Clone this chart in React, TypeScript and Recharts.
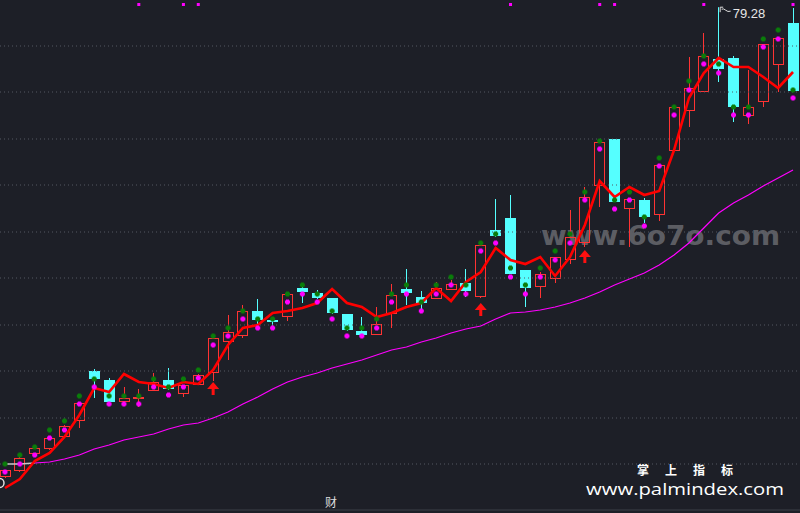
import { ComposedChart, Bar, Line, Scatter, XAxis, YAxis, ReferenceLine } from 'recharts';

const BG = '#1d1f27';
const UP = '#ff3333';
const DOWN = '#55ffff';

// daily candles, left to right
const opens = [32.3, 32.9, 34.6, 35.1, 36.3, 37.9, 42.9, 42.0, 39.8, 40.1, 40.9, 42.0, 40.6, 41.5, 42.7, 45.8, 46.4, 48.9, 48.0, 48.3, 51.2, 50.7, 50.2, 48.6, 46.9, 46.5, 48.6, 51.1, 50.3, 50.1, 51.0, 51.7, 50.3, 57.0, 58.2, 53.0, 51.3, 52.1, 54.0, 55.7, 61.4, 66.1, 59.1, 60.0, 58.5, 64.9, 68.9, 70.8, 74.1, 74.2, 68.4, 69.8, 73.5, 77.7];
const closes = [33.0, 34.2, 35.2, 36.2, 37.4, 39.7, 42.1, 39.8, 40.2, 40.3, 41.8, 41.1, 41.5, 42.5, 46.2, 46.8, 48.9, 48.0, 47.9, 50.6, 50.8, 50.2, 48.7, 47.0, 46.5, 47.6, 50.5, 50.7, 49.7, 51.2, 51.6, 50.9, 55.5, 56.4, 52.6, 51.2, 52.6, 54.3, 56.3, 60.3, 65.8, 59.8, 60.1, 58.3, 63.5, 69.3, 71.2, 74.4, 73.1, 69.3, 69.3, 75.6, 76.2, 70.9];
const highs = [33.0, 34.3, 35.3, 36.3, 37.5, 39.7, 43.1, 42.2, 41.3, 41.1, 42.7, 43.2, 41.5, 42.6, 46.2, 48.5, 49.5, 50.1, 48.3, 50.6, 51.3, 51.0, 50.2, 48.6, 48.3, 49.3, 51.6, 53.1, 50.9, 51.8, 52.0, 53.1, 55.6, 60.1, 60.5, 53.0, 52.8, 54.3, 59.0, 61.3, 65.9, 66.1, 60.1, 60.2, 63.5, 69.4, 74.3, 76.7, 79.28, 74.4, 73.0, 75.6, 76.2, 79.2];
const lows = [32.2, 32.8, 34.5, 35.0, 36.2, 37.2, 40.2, 39.8, 39.8, 39.3, 40.9, 41.0, 40.3, 41.5, 41.9, 44.0, 46.2, 47.2, 47.2, 47.9, 49.7, 50.1, 48.6, 46.9, 46.5, 46.5, 47.2, 49.5, 48.7, 50.1, 51.0, 50.3, 50.2, 56.3, 52.6, 49.3, 50.2, 51.7, 53.6, 55.3, 59.3, 59.8, 55.3, 57.7, 57.9, 64.9, 67.3, 70.8, 71.8, 67.8, 67.6, 69.3, 70.8, 70.9];

// short average (red) and long average (magenta, grey at the start)
const shortMa = [31.2, 32.1, 33.9, 34.7, 36.3, 38.5, 41.2, 40.8, 42.6, 41.8, 41.6, 41.2, 41.8, 41.6, 43.0, 45.5, 47.2, 47.5, 48.7, 48.9, 49.2, 49.7, 51.1, 49.7, 49.3, 48.3, 48.7, 49.3, 49.7, 51.2, 49.9, 51.8, 52.8, 55.2, 54.0, 53.6, 54.3, 52.4, 54.3, 57.5, 61.9, 60.3, 61.3, 60.5, 60.9, 65.0, 70.2, 72.7, 74.2, 73.3, 73.3, 72.3, 71.2, 72.8];
const longMa = [null, null, 33.7, 33.8, 34.1, 34.5, 35.1, 35.5, 36.0, 36.3, 36.6, 37.1, 37.5, 37.7, 38.2, 38.8, 39.6, 40.3, 41.1, 41.8, 42.3, 42.7, 43.2, 43.6, 44.0, 44.5, 45.0, 45.3, 45.8, 46.2, 46.7, 47.1, 47.4, 48.1, 48.7, 48.8, 49.0, 49.3, 49.7, 50.2, 50.8, 51.5, 52.1, 52.7, 53.5, 54.5, 55.7, 57.2, 58.7, 59.7, 60.5, 61.4, 62.2, 63.0];
const longMaGrey = [33.6, 33.6, 33.7];

// signal dots above / below
const greenDots = [33.6, 34.5, 35.3, 37.0, 37.9, 40.4, 42.1, 40.4, 40.4, 40.4, 42.1, 41.3, 42.1, 43.0, 46.4, 47.2, 48.9, 48.1, 48.1, 50.6, 51.5, 50.6, 48.9, 47.2, 47.2, 48.1, 50.6, 51.5, 49.8, 51.5, 52.3, 51.5, 55.7, 56.6, 53.2, 51.5, 53.2, 54.9, 56.6, 60.8, 65.9, 60.0, 60.8, 58.3, 64.2, 69.3, 71.9, 74.4, 73.6, 69.3, 69.3, 76.1, 77.0, 71.0];
const pinkDots = [32.8, 33.6, 34.5, 36.2, 37.0, 39.6, 41.3, 39.6, 39.6, 39.6, 41.3, 40.5, 41.3, 42.2, 45.5, 46.4, 48.1, 47.2, 47.2, 49.8, 50.6, 49.8, 48.1, 46.4, 46.4, 47.2, 49.8, 50.6, 48.9, 50.6, 51.5, 50.6, 54.9, 55.7, 52.3, 50.6, 52.3, 54.0, 55.7, 60.0, 65.1, 59.1, 60.0, 57.4, 63.4, 68.5, 71.0, 73.6, 72.7, 68.5, 68.5, 75.3, 76.1, 70.2];

const arrowBars = [14, 32, 39];
const arrowTips = [41.8, 49.7, 55.0];
const topMarkBars = [9, 12, 13, 34, 40, 41, 47, 53];
const topMarkLevel = 79.55;

const gridLevels = [75.4, 70.8, 66.1, 61.5, 56.8, 52.2, 47.5, 42.9, 38.2, 33.6];
const peakBar = 48;
const peakLabel = '79.28';

const rows = opens.map((o, i) => ({
  i,
  open: o,
  close: closes[i],
  high: highs[i],
  low: lows[i],
  range: [lows[i], highs[i]],
  ma: shortMa[i],
  longMa: longMa[i],
  grey: i < longMaGrey.length ? longMaGrey[i] : null,
  green: greenDots[i],
  pink: pinkDots[i],
}));

const arrows = arrowBars.map((b, k) => ({ i: b, tip: arrowTips[k] }));
const topMarks = topMarkBars.map(b => ({ i: b, level: topMarkLevel }));
const peak = [{ i: peakBar, level: highs[peakBar] }];

const Candle = (props: any) => {
  const { x, y, width, height, payload } = props;
  const top = Math.min(y, y + height);
  const h = Math.abs(height);
  const { open, close, high, low } = payload;
  const span = high - low || 1;
  const yOf = (v: number) => top + ((high - v) / span) * h;
  const cx = x + width / 2;
  const left = Math.round(cx - 5.5);
  const wx = left + 5.5;
  const up = close >= open;
  const bodyTop = Math.round(yOf(Math.max(open, close)));
  const bodyBot = Math.round(yOf(Math.min(open, close)));
  const col = up ? UP : DOWN;
  if (up) {
    return (
      <g>
        <line x1={wx} x2={wx} y1={yOf(high)} y2={bodyTop} stroke={col} />
        <line x1={wx} x2={wx} y1={bodyBot} y2={yOf(low)} stroke={col} />
        <rect x={left + 0.5} y={bodyTop + 0.5} width={10} height={Math.max(bodyBot - bodyTop - 1, 1)} fill="none" stroke={col} />
      </g>
    );
  }
  return (
    <g>
      <line x1={wx} x2={wx} y1={yOf(high)} y2={yOf(low)} stroke={col} />
      <rect x={left} y={bodyTop} width={11} height={Math.max(bodyBot - bodyTop, 2)} fill={col} />
    </g>
  );
};

const Plus = (color: string) => (p: any) => (
  <g fill={color}>
    <rect x={p.cx - 2.5} y={p.cy - 1.5} width={5} height={3} />
    <rect x={p.cx - 1.5} y={p.cy - 2.5} width={3} height={5} />
  </g>
);

const Arrow = (p: any) => (
  <g fill="#ff1010">
    <path d={`M${p.cx} ${p.cy} L${p.cx + 6} ${p.cy + 7} L${p.cx - 6} ${p.cy + 7} Z`} />
    <rect x={p.cx - 1.5} y={p.cy + 6} width={3} height={7} />
  </g>
);

const TopMark = (p: any) => <rect x={p.cx - 1.5} y={p.cy - 1.5} width={3} height={3} fill="#ff00ff" />;

const PeakTag = (p: any) => (
  <g>
    <path d={`M${p.cx + 1.5} ${p.cy} v5 M${p.cx + 1.5} ${p.cy} h3 M${p.cx + 3} ${p.cy + 2} q2 -1 4 1 t5 1`} stroke="#e0e0e0" fill="none" />
    <text x={p.cx + 14} y={p.cy + 11} fontSize={13} fill="#e6e6e6" fontFamily="'Liberation Sans', Arial, sans-serif">{peakLabel}</text>
  </g>
);

export default function App() {
  return (
    <div style={{ position: 'fixed', left: 0, top: 0, width: 800, height: 513, background: BG, overflow: 'hidden' }}>
      <svg width={800} height={513} style={{ position: 'absolute', left: 0, top: 0 }}>
        <text x={541} y={245} fontSize={27} fontWeight="bold" fill="#6e6f75" fillOpacity={0.8}
          fontFamily="'DejaVu Sans', Verdana, sans-serif" textLength={239} lengthAdjust="spacingAndGlyphs">www.6o7o.com</text>
      </svg>
      <div style={{ position: 'absolute', left: 0, top: 0 }}>
        <ComposedChart width={800} height={513} data={rows} margin={{ top: 0, right: 0, bottom: 3, left: 0 }}>
          <XAxis type="number" dataKey="i" domain={[-0.336, 53.47]} scale="linear" allowDataOverflow hide />
          <YAxis type="number" domain={[29, 80]} scale="linear" allowDataOverflow hide />
          {gridLevels.map(v => (
            <ReferenceLine key={v} y={v} stroke="#555963" strokeDasharray="1 3" />
          ))}
          <ReferenceLine y={29} stroke="#3d4049" />
          <Bar dataKey="range" barSize={11} shape={Candle} activeBar={false} isAnimationActive={false} />
          <Line dataKey="longMa" stroke="#ff00ff" strokeWidth={1.2} dot={false} activeDot={false} type="linear" isAnimationActive={false} />
          <Line dataKey="grey" stroke="#c8c8c8" strokeWidth={1.5} dot={false} activeDot={false} type="linear" isAnimationActive={false} />
          <Line dataKey="ma" stroke="#ff0000" strokeWidth={2.6} dot={false} activeDot={false} type="linear" isAnimationActive={false} />
          <Scatter dataKey="green" shape={Plus('#0a7d0a')} activeShape={Plus('#0a7d0a')} isAnimationActive={false} />
          <Scatter dataKey="pink" shape={Plus('#ff00ff')} activeShape={Plus('#ff00ff')} isAnimationActive={false} />
          <Scatter data={arrows} dataKey="tip" shape={Arrow} activeShape={Arrow} isAnimationActive={false} />
          <Scatter data={topMarks} dataKey="level" shape={TopMark} activeShape={TopMark} isAnimationActive={false} />
          <Scatter data={peak} dataKey="level" shape={PeakTag} activeShape={PeakTag} isAnimationActive={false} />
        </ComposedChart>
      </div>
      <svg width={800} height={513} style={{ position: 'absolute', left: 0, top: 0, pointerEvents: 'none' }}>
        <circle cx={-0.5} cy={483} r={4.5} fill="none" stroke="#e0e0e0" strokeWidth={1.5} />
        <text x={637} y={474.5} fontSize={12} fontWeight="bold" fill="#ffffff"
          fontFamily="'Noto Sans CJK SC', sans-serif" textLength={96} lengthAdjust="spacing">掌 上 指 标</text>
        <text x={586} y={494.5} fontSize={17} fill="#ffffff"
          fontFamily="'Open Sans', 'Noto Sans', sans-serif" textLength={198} lengthAdjust="spacingAndGlyphs">www.palmindex.com</text>
        <text x={325} y={507} fontSize={12} fill="#dddddd" fontFamily="'Noto Sans CJK SC', sans-serif">财</text>
      </svg>
    </div>
  );
}
